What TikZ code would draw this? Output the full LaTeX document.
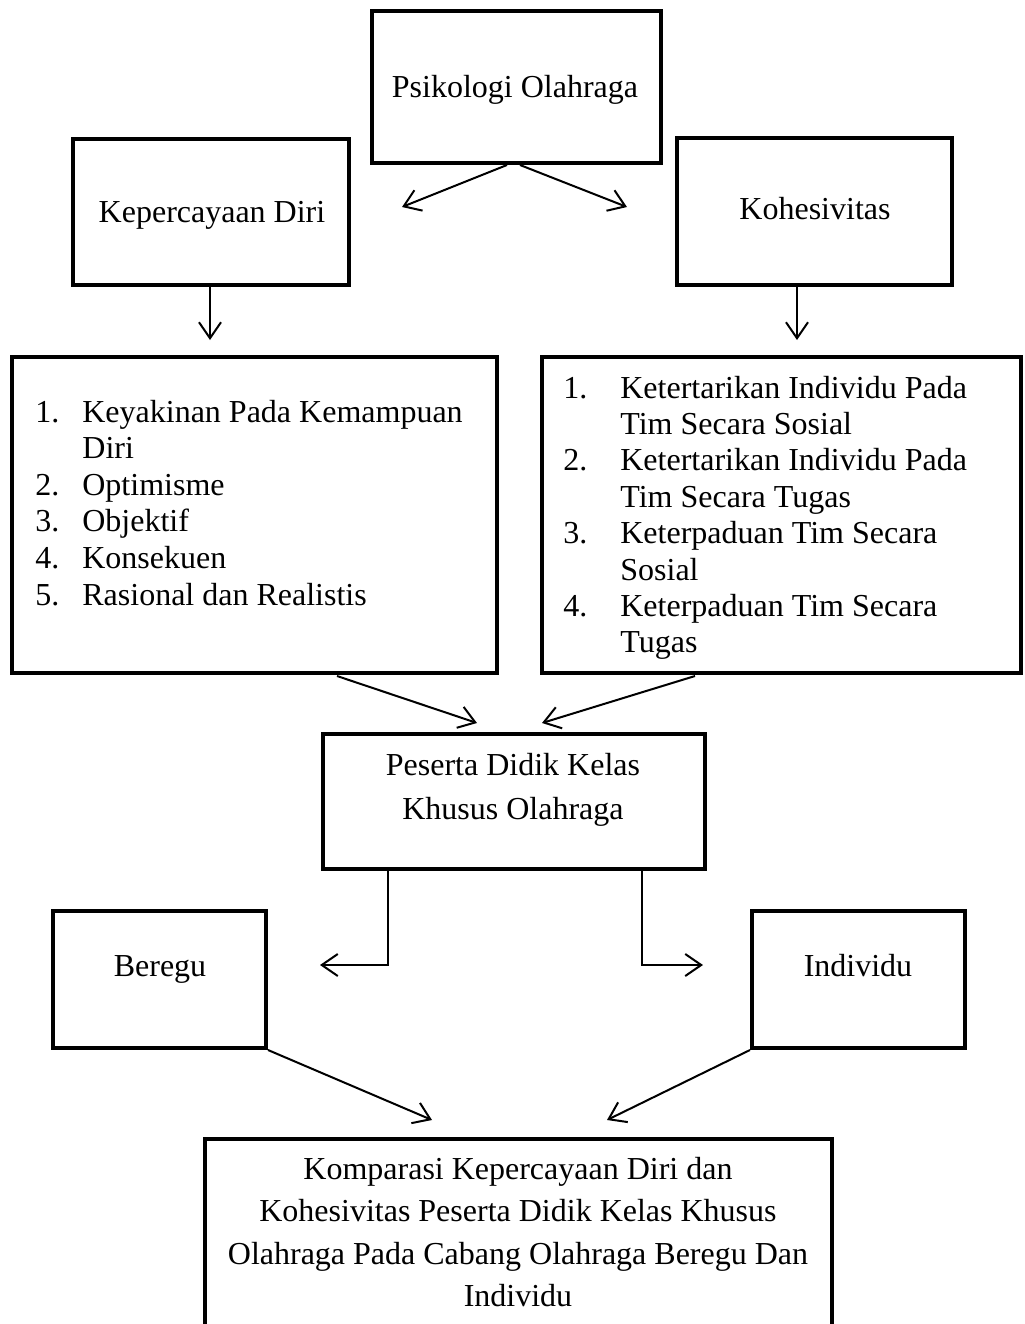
\documentclass[tikz,border=0pt]{standalone}
\usepackage{fontspec}
\setmainfont{Liberation Serif}
\usetikzlibrary{arrows.meta,calc}
\begin{document}
\begin{tikzpicture}[x=0.5pt,y=-0.5pt,
  box/.style={draw,line width=2pt,inner sep=0pt},
  txt/.style={inner sep=0pt,font=\fontsize{16}{22}\selectfont},
  arr/.style={line width=1pt,-{Straight Barb[length=8pt,width=11pt,line width=1pt]}},
  conn/.style={line width=1pt}]
\clip (0,0) rectangle (1024,1324);
\fill[white] (0,0) rectangle (1024,1324);
% boxes
\node[box,minimum width=144.5pt,minimum height=76pt] (P) at (516.5,87) {};
\node[box,minimum width=138pt,minimum height=73pt] (K) at (211,212) {};
\node[box,minimum width=137.5pt,minimum height=73.5pt] (H) at (814.5,211.5) {};
\node[box,minimum width=242.5pt,minimum height=158pt] (L) at (254.5,515) {};
\node[box,minimum width=239.5pt,minimum height=158pt] (R) at (781.5,515) {};
\node[box,minimum width=191pt,minimum height=67.5pt] (Pe) at (514,801.5) {};
\node[box,minimum width=106.5pt,minimum height=68.5pt] (B) at (159.5,979.5) {};
\node[box,minimum width=106.5pt,minimum height=68.5pt] (I) at (858.5,979.5) {};
\node[box,minimum width=313.5pt,minimum height=110pt] (C) at (518.5,1249) {};
% texts
\node[txt,anchor=base] (tP) at (515,97) {Psikologi Olahraga};
\node[txt,anchor=base] (tK) at (212,222) {Kepercayaan Diri};
\node[txt,anchor=base] (tH) at (815,219) {Kohesivitas};
\node[inner sep=0pt,anchor=base west,font=\fontsize{16}{18.3}\selectfont] (tL) at (35,422)
 {\begin{tabular}[t]{@{}p{23.5pt}@{}l@{}}
 1. & Keyakinan Pada Kemampuan\\
    & Diri\\
 2. & Optimisme\\
 3. & Objektif\\
 4. & Konsekuen\\
 5. & Rasional dan Realistis
 \end{tabular}};
\node[inner sep=0pt,anchor=base west,font=\fontsize{16}{18.2}\selectfont] (tR) at (563,398)
 {\begin{tabular}[t]{@{}p{28.5pt}@{}l@{}}
 1. & Ketertarikan Individu Pada\\
    & Tim Secara Sosial\\
 2. & Ketertarikan Individu Pada\\
    & Tim Secara Tugas\\
 3. & Keterpaduan Tim Secara\\
    & Sosial\\
 4. & Keterpaduan Tim Secara\\
    & Tugas
 \end{tabular}};
\node[txt,anchor=base] (tPe) at (513,775)
 {\begin{tabular}[t]{@{}c@{}}Peserta Didik Kelas\\Khusus Olahraga\end{tabular}};
\node[txt,anchor=base] (tB) at (160,976) {Beregu};
\node[txt,anchor=base] (tI) at (858,976) {Individu};
\node[inner sep=0pt,anchor=base,font=\fontsize{16}{21.3}\selectfont] (tC) at (518,1179)
 {\begin{tabular}[t]{@{}c@{}}Komparasi Kepercayaan Diri dan\\
 Kohesivitas Peserta Didik Kelas Khusus\\
 Olahraga Pada Cabang Olahraga Beregu Dan\\
 Individu\end{tabular}};
% free ends
\coordinate (a1) at (402,207);
\coordinate (a2) at (627,207);
\coordinate (a3) at (210,340);
\coordinate (a4) at (797,340);
\coordinate (a5) at (477,723);
\coordinate (a6) at (542,723);
\coordinate (a7) at (320,965);
\coordinate (a8) at (703,965);
\coordinate (a9) at (432,1120);
\coordinate (a10) at (607,1120);
% connectors
\draw[arr] ($(P.south)+(-9.5,0)$) -- (a1);
\draw[arr] ($(P.south)+(3.5,0)$) -- (a2);
\draw[arr] ($(K.south)+(-1,0)$) -- (a3);
\draw[arr] ($(H.south)+(-17.5,0)$) -- (a4);
\draw[arr] ($(L.south)+(82.5,1)$) -- (a5);
\draw[arr] ($(R.south)+(-86.5,1)$) -- (a6);
\draw[arr] ($(Pe.south)+(-126,0)$) |- (a7);
\draw[arr] ($(Pe.south)+(128,0)$) |- (a8);
\draw[arr] (B.south east) -- (a9);
\draw[arr] (I.south west) -- (a10);
\end{tikzpicture}
\end{document}
